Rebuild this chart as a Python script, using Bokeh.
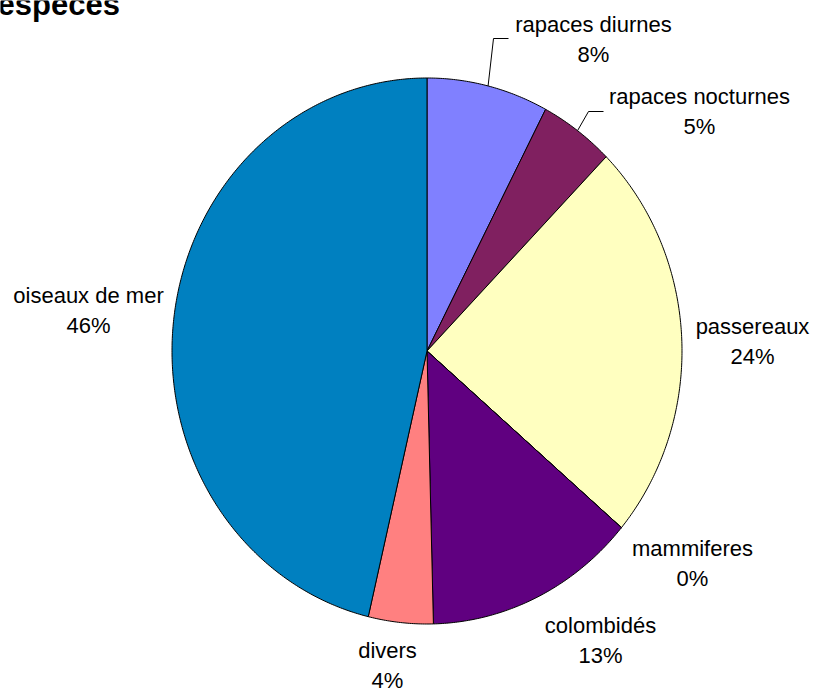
import numpy as np
from bokeh.plotting import figure
from bokeh.models import Range1d, ColumnDataSource
from bokeh.core.properties import value
from bokeh.embed import file_html
from bokeh.resources import INLINE

# ---- data ----
categories = ["rapaces diurnes", "rapaces nocturnes", "passereaux", "mammiferes",
              "colombidés", "divers", "oiseaux de mer"]
shares = [7.7, 4.7, 23.8, 0.0, 13.4, 4.1, 46.3]
colors = ["#8080FF", "#802060", "#FFFFC0", "#A0E0E0", "#600080", "#FF8080", "#0080C0"]
title_text = "espèces"

# ---- layout (picture pixels) ----
CX, CY = 426.5, 350.5      # pie centre
RX, RY = 255.0, 273.0      # pie radii
label_pos = [(593, 32), (699, 104), (752, 334), (692, 556), (600, 633), (387, 658), (88, 303)]
line_gap = 30
text_dy = -8               # baseline correction for the renderer
leader_ends = {0: (508, 38), 1: (603, 111)}
leader_elbow_dx = 15
FONT = "Liberation Sans"

W, H = 815, 691


def X(px):
    return px - CX


def Y(py):
    return CY - py


p = figure(width=W, height=H, output_backend="svg", toolbar_location=None,
           x_range=Range1d(X(0), X(W)), y_range=Range1d(Y(H), Y(0)),
           min_border=0)
p.axis.visible = False
p.grid.visible = False
p.outline_line_color = None
p.background_fill_color = "white"

total = float(sum(shares))
fr = np.array(shares) / total
cum = np.concatenate([[0.0], np.cumsum(fr)])

xs, ys = [], []
for i in range(len(shares)):
    a0, a1 = cum[i] * 2 * np.pi, cum[i + 1] * 2 * np.pi
    n = max(2, int(np.ceil((a1 - a0) / (2 * np.pi) * 720)) + 1)
    t = np.linspace(a0, a1, n)
    xs.append([0.0] + list(RX * np.sin(t)))
    ys.append([0.0] + list(RY * np.cos(t)))

src = ColumnDataSource(dict(xs=xs, ys=ys, color=colors, cat=categories))
p.patches("xs", "ys", source=src, fill_color="color", line_color="black", line_width=1)

# leader lines
for i, (ex, ey) in leader_ends.items():
    mid = (cum[i] + cum[i + 1]) / 2 * 2 * np.pi
    sx, sy = RX * np.sin(mid), RY * np.cos(mid)
    p.line([sx, X(ex - leader_elbow_dx), X(ex)], [sy, Y(ey), Y(ey)],
           line_color="black", line_width=1)

# labels
pct_text = [f"{round(f * 100)}%" for f in fr]
lx = [X(a) for a, b in label_pos]
ly_name = [Y(b + text_dy) for a, b in label_pos]
ly_pct = [Y(b + line_gap + text_dy) for a, b in label_pos]
p.text(x=lx, y=ly_name, text=categories, text_font=value(FONT), text_font_size="22px",
       text_align="center", text_baseline="alphabetic", text_color="black")
p.text(x=lx, y=ly_pct, text=pct_text, text_font=value(FONT), text_font_size="22px",
       text_align="center", text_baseline="alphabetic", text_color="black")

# clipped title
p.text(x=[X(-3)], y=[Y(12 + text_dy)], text=[title_text], text_font=value(FONT),
       text_font_size="31px", text_font_style="bold", text_align="left",
       text_baseline="alphabetic", text_color="black")

open("out.html", "w").write(file_html(p, INLINE))
